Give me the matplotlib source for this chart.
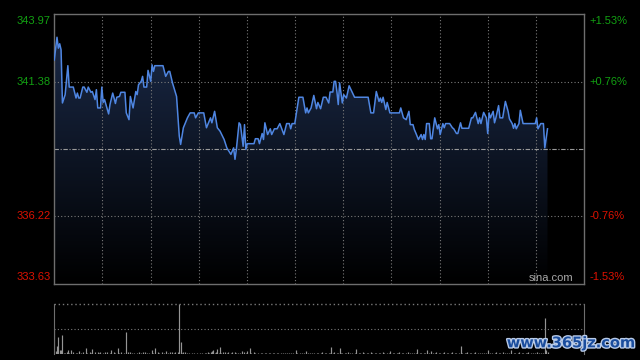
import matplotlib
matplotlib.use("Agg")
import matplotlib.pyplot as plt
import matplotlib.patheffects as pe
import numpy as np
from matplotlib.colors import LinearSegmentedColormap
from matplotlib.patches import Polygon

# intraday price (minute index from open, price)
minutes = [0, 2, 3, 4, 5, 6, 8, 10, 11, 14, 16, 17, 18, 19, 21, 22, 24, 25, 27, 28,
           30, 31, 32, 34, 35, 36, 37, 40, 41, 43, 44, 45, 46, 48, 49, 52, 53, 55, 56, 58,
           60, 61, 62, 64, 65, 66, 68, 69, 71, 72, 73, 74, 80, 82, 84, 85, 87, 90, 92, 93,
           95, 98, 100, 103, 104, 106, 110, 112, 115, 116, 118, 120, 122, 125, 127, 130, 132, 133, 134, 136,
           137, 139, 140, 141, 142, 147, 148, 150, 151, 153, 154, 155, 157, 159, 160, 162, 164, 166, 169, 171,
           173, 174, 175, 177, 180, 183, 185, 186, 187, 189, 191, 193, 194, 196, 198, 200, 202, 203, 205, 206,
           207, 208, 209, 210, 212, 213, 215, 217, 219, 221, 231, 233, 235, 237, 239, 240, 241, 242, 244, 245,
           247, 254, 255, 257, 259, 261, 262, 264, 265, 266, 268, 270, 271, 272, 273, 274, 276, 277, 278, 280,
           282, 283, 284, 286, 287, 288, 291, 293, 294, 296, 297, 299, 300, 305, 307, 308, 310, 312, 313, 314,
           316, 318, 319, 320, 321, 323, 324, 325, 327, 328, 330, 332, 334, 335, 337, 338, 339, 340, 342, 343,
           345, 354, 355, 356, 358, 360, 361, 363]
prices = [342.22, 343.09, 342.67, 342.84, 342.61, 340.57, 340.89, 342.00, 341.18, 341.18,
          340.76, 340.95, 340.76, 340.76, 341.18, 341.18, 340.98, 341.18, 340.98, 341.01,
          340.70, 341.08, 340.38, 340.38, 341.18, 340.59, 340.70, 340.15, 340.51, 340.95,
          340.76, 340.55, 340.79, 340.82, 340.98, 340.98, 340.19, 339.93, 340.82, 340.38,
          341.01, 340.89, 341.27, 341.40, 341.59, 341.18, 341.18, 341.82, 341.40, 342.03,
          341.78, 342.00, 342.00, 341.59, 341.78, 341.78, 341.34, 340.82, 339.30, 338.98,
          339.62, 340.00, 340.19, 340.19, 340.00, 340.19, 340.19, 339.62, 340.00, 339.81,
          340.25, 339.62, 339.49, 339.17, 338.85, 338.60, 338.85, 338.41, 338.79, 339.81,
          339.74, 338.91, 339.74, 338.79, 339.01, 339.01, 339.20, 339.20, 339.01, 339.40,
          339.17, 339.81, 339.36, 339.58, 339.36, 339.58, 339.58, 339.78, 339.36, 339.78,
          339.78, 339.58, 339.78, 339.78, 340.79, 340.79, 340.19, 340.38, 340.19, 340.38,
          340.86, 340.35, 340.59, 340.35, 340.79, 340.79, 340.57, 340.99, 340.99, 341.40,
          341.40, 341.01, 340.51, 341.34, 340.57, 340.89, 340.76, 341.23, 341.01, 340.79,
          340.79, 340.19, 340.19, 341.01, 340.63, 340.76, 340.59, 340.79, 340.32, 340.59,
          340.19, 340.19, 340.38, 340.00, 339.93, 340.25, 339.74, 339.74, 339.55, 339.43,
          339.17, 339.36, 339.17, 339.36, 339.17, 339.78, 339.78, 339.20, 339.20, 340.00,
          339.58, 339.74, 339.36, 339.78, 339.62, 339.78, 339.78, 339.62, 339.58, 339.40,
          339.40, 339.81, 339.60, 339.60, 340.00, 340.00, 340.21, 339.78, 340.00, 339.78,
          340.21, 340.00, 339.40, 340.19, 340.00, 340.25, 339.81, 340.00, 340.47, 340.00,
          340.00, 340.63, 340.25, 339.96, 339.78, 339.60, 339.78, 339.58, 339.78, 340.29,
          339.78, 339.78, 340.00, 339.58, 339.78, 339.78, 338.85, 339.58]

# volume per minute (0..363)
volume = [75, 10, 26, 52, 12, 14, 59, 4, 3, 6, 14, 3, 14, 2, 6, 0, 4, 3, 11, 2,
          3, 6, 2, 20, 3, 2, 6, 3, 16, 2, 8, 2, 6, 3, 6, 2, 3, 8, 2, 6,
          2, 3, 12, 2, 6, 3, 2, 20, 3, 6, 2, 3, 2, 66, 8, 2, 6, 3, 2, 4,
          2, 3, 8, 2, 3, 6, 2, 6, 3, 2, 4, 2, 12, 3, 20, 2, 6, 3, 2, 6,
          2, 3, 11, 2, 3, 6, 2, 8, 3, 8, 2, 8, 150, 36, 3, 6, 8, 2, 3, 4,
          2, 3, 2, 4, 2, 3, 2, 4, 2, 3, 2, 4, 3, 8, 3, 8, 11, 14, 3, 6,
          16, 3, 22, 3, 8, 2, 8, 3, 6, 2, 3, 8, 2, 6, 3, 4, 2, 3, 9, 2,
          8, 3, 9, 2, 20, 3, 2, 6, 3, 2, 4, 2, 3, 4, 2, 3, 4, 2, 3, 4,
          2, 3, 4, 2, 3, 4, 2, 3, 4, 2, 3, 4, 2, 3, 4, 2, 3, 2, 14, 3,
          2, 3, 4, 2, 3, 9, 2, 3, 4, 2, 3, 4, 2, 3, 4, 2, 3, 6, 2, 3,
          4, 2, 3, 4, 22, 3, 6, 2, 3, 4, 19, 3, 4, 2, 3, 4, 6, 2, 3, 4,
          2, 3, 16, 2, 3, 4, 2, 6, 3, 2, 4, 3, 2, 6, 3, 2, 4, 3, 2, 4,
          3, 2, 8, 3, 2, 4, 3, 11, 2, 3, 4, 2, 3, 4, 6, 2, 3, 4, 2, 3,
          8, 2, 3, 4, 2, 3, 4, 16, 2, 3, 4, 2, 3, 4, 12, 2, 3, 9, 2, 3,
          4, 8, 2, 3, 4, 2, 3, 6, 2, 3, 4, 2, 3, 6, 2, 3, 4, 2, 3, 26,
          3, 2, 3, 4, 8, 2, 3, 4, 2, 3, 6, 2, 3, 4, 2, 3, 4, 2, 3, 12,
          2, 3, 4, 2, 3, 8, 2, 3, 4, 2, 6, 2, 3, 4, 2, 3, 12, 2, 3, 4,
          2, 3, 6, 2, 3, 4, 2, 3, 4, 6, 2, 3, 4, 2, 3, 6, 2, 3, 4, 2,
          3, 109, 14, 6]

prev_close = 338.80
price_ticks = [343.97, 341.38, 336.22, 333.63]
pct_labels = ["+1.53%", "+0.76%", "-0.76%", "-1.53%"]
session_minutes = 390

GREEN = "#12a012"
RED = "#dd1100"
GRID = "#7a7a7a"
FRAME = "#6e6e6e"

fig = plt.figure(figsize=(6.4, 3.6), dpi=100, facecolor="black")
ax = fig.add_axes([0.0848, 0.2111, 0.828, 0.7492], facecolor="black")
vax = fig.add_axes([0.0848, 0.0153, 0.828, 0.1389], facecolor="black")

lo, hi = price_ticks[-1], price_ticks[0]
ax.set_xlim(0, session_minutes)
ax.set_ylim(lo, hi)

# gradient fill under the price line
cmap = LinearSegmentedColormap.from_list("fill", ["#000000", "#1c2c4c"])
grad = np.linspace(0, 1, 256).reshape(-1, 1)
img = ax.imshow(grad, cmap=cmap, origin="lower", aspect="auto",
                extent=(0, session_minutes, lo, hi), zorder=1)
poly = Polygon(np.column_stack([[minutes[0]] + minutes + [minutes[-1]],
                                [lo] + prices + [lo]]),
               closed=True, transform=ax.transData, facecolor="none", edgecolor="none")
ax.add_patch(poly)
img.set_clip_path(poly)

# grid
for xv in np.linspace(0, session_minutes, 12)[1:-1]:
    ax.axvline(xv, color=GRID, lw=0.8, ls=(0, (1, 2)), zorder=2)
for yv in price_ticks[1:3]:
    ax.axhline(yv, color=GRID, lw=0.8, ls=(0, (1, 2)), zorder=2)
ax.axhline(prev_close, color="#9a9a9a", lw=0.8, ls=(0, (4, 1.5, 1, 1.5)), zorder=2)

ax.plot(minutes, prices, color="#4f86e2", lw=1.1, zorder=3)

ax.set_xticks([])
ax.set_yticks([])
for s in ax.spines.values():
    s.set_color(FRAME)
    s.set_linewidth(1.0)

# axis labels
lab_font = dict(family="Liberation Sans", fontsize=8)
for i, (p, pc) in enumerate(zip(price_ticks, pct_labels)):
    col = GREEN if p > prev_close else RED
    va = "top" if i == 0 else ("bottom" if i == len(price_ticks) - 1 else "center")
    yy = p - 0.07 if i == 0 else (p + 0.07 if i == len(price_ticks) - 1 else p)
    ax.text(-0.007, yy, f"{p:.2f}", transform=ax.get_yaxis_transform(),
            ha="right", va=va, color=col, **lab_font)
    ax.text(1.010, yy, pc, transform=ax.get_yaxis_transform(),
            ha="left", va=va, color=col, **lab_font)

ax.text(0.979, 0.005, "sina.com", transform=ax.transAxes, ha="right", va="bottom",
        color="#a8a8a8", **lab_font)

# volume panel
vax.set_xlim(0, session_minutes)
vax.set_ylim(0, 150)
vax.vlines(np.arange(len(volume)), 0, volume, color="#959595", lw=0.85)
vax.axhline(75, color=GRID, lw=0.8, ls=(0, (1, 2)))
vax.axhline(150, color=GRID, lw=1.0, ls=(0, (1, 2)), clip_on=False)
vax.set_xticks([])
vax.set_yticks([])
for side in ["top", "bottom"]:
    vax.spines[side].set_visible(False)
for side in ["left", "right"]:
    vax.spines[side].set_color(FRAME)

fig.text(0.993, 0.027, "www.365jz.com", ha="right", va="bottom",
         fontsize=10.5, fontweight="bold", family="DejaVu Sans", color="#1a4d9e",
         path_effects=[pe.withStroke(linewidth=2.0, foreground="#b9cbe8")])

fig.savefig("out.png", dpi=100, facecolor="black")
